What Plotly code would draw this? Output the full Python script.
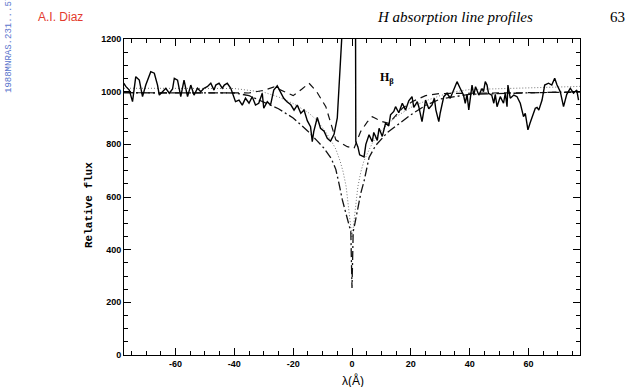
import plotly.graph_objects as go

# ---------------- data ----------------
obs_x = [-77.6, -76.9, -75.7, -74.6, -73.5, -72.3, -71.2, -70.1, -68.4, -67.2, -66.1, -65.5, -64.4, -63.3,
         -62.1, -61.0, -60.4, -59.3, -58.2, -57.1, -55.9, -54.8, -53.7, -52.5, -51.4, -50.3, -49.2, -48.0,
         -46.9, -46.3, -45.2, -44.1, -43.4, -42.4, -41.2, -40.1, -39.6, -38.4, -37.3, -36.2, -35.0, -33.9,
         -32.8, -31.7, -30.5, -30.0, -28.8, -27.7, -26.6, -25.4, -24.3, -23.2, -22.1, -20.8, -19.7, -18.6,
         -17.4, -16.3, -15.2, -14.1, -13.5, -13.0, -11.8, -10.7, -9.5, -8.4, -7.3, -6.1, -5.0, -3.2,
         -2.0, 0.5, 1.2, 1.3, 2.0, 2.6, 3.5, 4.1, 4.7, 5.8, 6.9, 7.4, 8.6, 9.2, 10.3, 11.4, 12.5, 13.1,
         14.2, 14.8, 15.9, 17.1, 18.2, 19.3, 20.4, 21.0, 22.2, 22.7, 23.8, 25.0, 26.1, 27.2, 28.0, 28.5,
         29.5, 30.0, 31.2, 32.3, 33.4, 34.6, 35.7, 36.8, 37.9, 38.5, 39.1, 39.7, 40.8, 41.4, 42.0, 43.1,
         44.2, 44.7, 45.3, 45.9, 46.4, 47.5, 48.2, 48.7, 49.3, 50.4, 51.5, 52.1, 52.7, 53.0, 53.8, 55.0,
         56.1, 57.2, 58.3, 58.9, 59.8, 60.5, 61.6, 62.3, 62.9, 63.5, 64.6, 65.5, 66.8, 67.9, 68.9, 69.7,
         70.8, 71.9, 73.0, 74.2, 75.3, 76.4, 77.0]
obs_y = [1032, 1020, 1006, 962, 1057, 1044, 981, 1025, 1076, 1070, 1025, 987, 1000, 1013,
         994, 1010, 1051, 1044, 981, 1044, 981, 1025, 987, 1013, 1000, 1013, 1019, 1032,
         1006, 1025, 1032, 1013, 1025, 1032, 1013, 981, 962, 968, 949, 975, 956, 981,
         949, 956, 994, 937, 962, 949, 1006, 1022, 1000, 975, 962, 950, 930, 949,
         918, 930, 890, 867, 810, 848, 902, 861, 850, 823, 812, 838, 900, 1250,
         1500, 1500, 1250, 810, 790, 760, 755, 752, 800, 836, 810, 845, 815, 861, 830, 880, 870, 912,
         925, 943, 920, 956, 930, 965, 981, 940, 962, 943, 886, 968, 935, 950, 975, 931,
         886, 920, 981, 994, 975, 1012, 1038, 1012, 987, 956, 990, 931, 1025, 987, 1019, 987,
         1012, 1000, 1038, 1025, 994, 987, 956, 990, 943, 981, 956, 994, 943, 1025, 975, 987,
         981, 956, 905, 918, 855, 880, 920, 937, 940, 930, 968, 1025, 1032, 1025, 1051, 1025,
         1000, 943, 990, 1013, 994, 1006, 968]

# dotted model profile
dot_x = [-77.5, -40, -30, -25, -20, -15, -12, -9, -7, -5.5, -4, -3, -2, -1.2, -0.5, 0,
         0.5, 1.2, 2, 3, 4, 5.5, 7, 9, 12, 15, 20, 25, 30, 35, 40, 77.5]
dot_y = [1013, 1012, 998, 980, 955, 922, 892, 848, 812, 782, 735, 695, 640, 570, 490, 445,
         490, 570, 640, 695, 735, 772, 806, 840, 875, 905, 940, 965, 985, 1000, 1008, 1020]

# dash-dot model profile (deep core)
dd_x = [-77.5, -40, -35, -30, -25, -20, -15, -12, -9.5, -7, -5.5, -4.4, -3.3, -2, -1, -0.4, -0.2, 0,
        0.2, 0.4, 1, 2, 3, 4.1, 5.8, 8, 12, 16, 20, 25, 30, 40, 77.5]
dd_y = [996, 995, 985, 960, 935, 900, 850, 815, 785, 745, 705, 650, 590, 535, 492, 468, 360, 254,
        360, 468, 500, 560, 615, 660, 750, 795, 845, 878, 912, 948, 972, 990, 1000]

# dashed comparison profile
ds_x = [-77.5, -35, -30, -26.5, -22, -20, -17, -14.6, -12, -8.9, -5.5, -1.6, 0.7, 2.9, 5.2, 6.9,
        8.6, 10.3, 12.5, 14.5, 17.1, 20.4, 25, 30, 77.5]
ds_y = [996, 995, 1005, 1018, 995, 985, 1010, 1032, 1000, 943, 817, 791, 785, 848, 885, 905,
        895, 886, 880, 905, 937, 962, 985, 993, 998]

x_ticks = [-60, -40, -20, 0, 20, 40, 60]
x_ticklabels = ["-60", "-40", "-20", "0", "20", "40", "60"]
y_ticks = [0, 200, 400, 600, 800, 1000, 1200]

# ---------------- figure ----------------
W, H = 627, 387
ML, MR, MT, MB = 124, 47, 39, 32
PW, PH = W - ML - MR, H - MT - MB


def px(xp):
    return (xp - ML) / PW


def py(yp):
    return (H - MB - yp) / PH


fig = go.Figure()
fig.add_trace(go.Scatter(x=dot_x, y=dot_y, mode="lines",
                         line=dict(color="#777777", width=1, dash="1px,2px")))
fig.add_trace(go.Scatter(x=dd_x, y=dd_y, mode="lines",
                         line=dict(color="#111111", width=1.3, dash="9px,3px,2px,3px")))
fig.add_trace(go.Scatter(x=ds_x, y=ds_y, mode="lines",
                         line=dict(color="#111111", width=1.2, dash="7px,5px")))
fig.add_trace(go.Scatter(x=obs_x, y=obs_y, mode="lines",
                         line=dict(color="#000000", width=1.4)))

tickfont = dict(family="Liberation Sans", size=9, color="black", weight="bold")
fig.update_xaxes(range=[-77.5, 77.5], tickmode="array", tickvals=x_ticks, ticktext=x_ticklabels,
                 ticks="inside", ticklen=7, tickwidth=1, tickcolor="black",
                 showline=True, linecolor="black", linewidth=1, mirror="allticks",
                 showgrid=False, zeroline=False, tickfont=tickfont,
                 minor=dict(tickmode="linear", tick0=0, dtick=5, ticks="inside", ticklen=4,
                            tickcolor="black", showgrid=False))
fig.update_yaxes(range=[0, 1200], tickmode="array", tickvals=y_ticks,
                 ticks="inside", ticklen=7, tickwidth=1, tickcolor="black",
                 showline=True, linecolor="black", linewidth=1, mirror="allticks",
                 showgrid=False, zeroline=False, tickfont=tickfont,
                 minor=dict(tickmode="linear", tick0=0, dtick=50, ticks="inside", ticklen=4,
                            tickcolor="black", showgrid=False))


def note(xp, yp, text, font, angle=0):
    return dict(x=px(xp), y=py(yp), xref="paper", yref="paper", text=text, showarrow=False,
                xanchor="center", yanchor="middle", textangle=angle, font=font)


ann = [
    dict(x=11.8, y=1052, xref="x", yref="y", text="H<sub>β</sub>", showarrow=False,
         xanchor="center", yanchor="middle",
         font=dict(family="Liberation Serif", size=12, color="black", weight="bold")),
    note(353, 380, "λ(Å)", dict(family="Liberation Sans", size=12, color="black")),
    note(89, 205, "Relative flux",
         dict(family="Liberation Mono", size=11, color="black", weight="bold"), -90),
    note(60, 17, "A.I. Diaz", dict(family="Liberation Sans", size=12, color="#e33b2e")),
    note(455, 17, "<i>H absorption line profiles</i>",
         dict(family="Liberation Serif", size=15, color="black")),
    note(617, 17, "63", dict(family="Liberation Serif", size=15, color="black")),
    note(9, 42, "1988MNRAS.231...57D",
         dict(family="Liberation Mono", size=9, color="#5a74cc"), -90),
]
fig.update_layout(width=W, height=H, margin=dict(l=ML, r=MR, t=MT, b=MB),
                  paper_bgcolor="white", plot_bgcolor="white", showlegend=False,
                  annotations=ann)
fig.write_html("out.html")
